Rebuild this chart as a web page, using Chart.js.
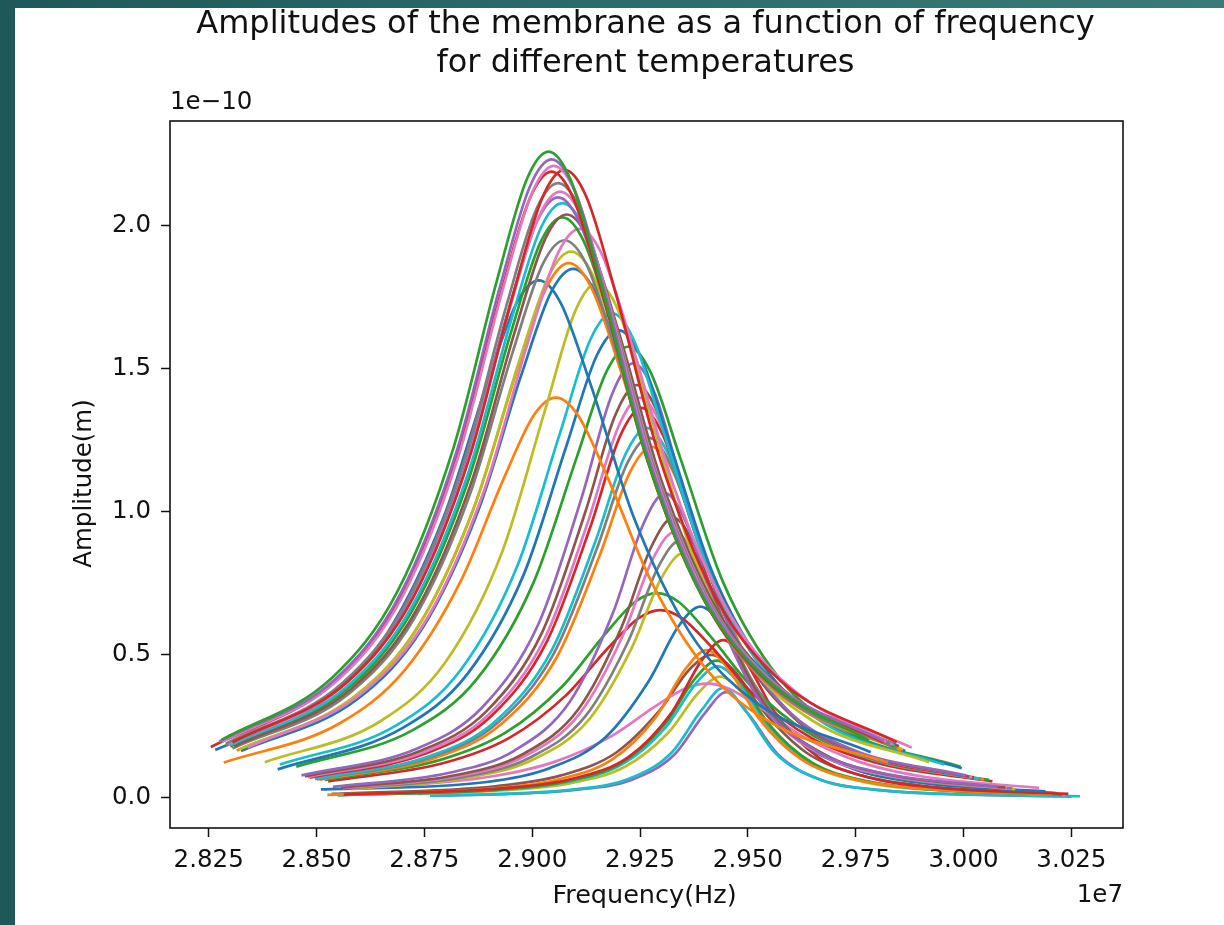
<!DOCTYPE html>
<html>
<head>
<meta charset="utf-8">
<title>Amplitudes of the membrane</title>
<script src="https://cdn.jsdelivr.net/npm/chart.js@4.4.1/dist/chart.umd.min.js"></script>
<style>
  html, body { margin: 0; padding: 0; }
  body {
    width: 1224px; height: 925px; overflow: hidden; position: relative;
    background: linear-gradient(90deg, #1f5858 0%, #2c6a69 45%, #3a7a77 100%);
  }
  #panel { position: absolute; left: 15px; top: 8px; right: 0; bottom: 0; background: #fff; }
  #chart { position: absolute; left: 0; top: 0; }
</style>
</head>
<body>
<div id="panel"></div>
<canvas id="chart" width="1224" height="925"></canvas>
<script>
// frequency in units of 1e7 Hz, amplitude in units of 1e-10 m
const freqTicks = [2.825, 2.85, 2.875, 2.9, 2.925, 2.95, 2.975, 3.0, 3.025];
const ampTicks = [0, 0.5, 1.0, 1.5, 2.0];

const titleLines = ['Amplitudes of the membrane as a function of frequency', 'for different temperatures'];
const xTitle = 'Frequency(Hz)';
const yTitle = 'Amplitude(m)';

// tall family
const curve01 = [[2.828,0.203],[2.8538,0.423],[2.8688,0.723],[2.8818,1.227],[2.8918,1.808],[2.8988,2.165],[2.9038,2.26],[2.9088,2.165],[2.9158,1.808],[2.9258,1.227],[2.9388,0.723],[2.9538,0.423],[2.978,0.200]];
const curve02 = [[2.8275,0.198],[2.8545,0.418],[2.8695,0.715],[2.8825,1.213],[2.8925,1.786],[2.8995,2.139],[2.9045,2.233],[2.9095,2.139],[2.9165,1.786],[2.9265,1.213],[2.9395,0.715],[2.9545,0.418],[2.9815,0.198]];
const curve03 = [[2.828,0.196],[2.855,0.413],[2.870,0.707],[2.883,1.200],[2.893,1.768],[2.900,2.117],[2.905,2.21],[2.910,2.117],[2.917,1.768],[2.927,1.200],[2.940,0.707],[2.955,0.413],[2.982,0.196]];
const curve04 = [[2.8255,0.178],[2.8545,0.410],[2.8695,0.701],[2.8825,1.189],[2.8925,1.752],[2.8995,2.098],[2.9045,2.19],[2.9095,2.098],[2.9165,1.752],[2.9265,1.189],[2.9395,0.701],[2.9545,0.410],[2.9815,0.194]];
const curve05 = [[2.8305,0.195],[2.8575,0.411],[2.8725,0.703],[2.8855,1.192],[2.8955,1.757],[2.9025,2.104],[2.9075,2.196],[2.9125,2.104],[2.9195,1.757],[2.9295,1.192],[2.9425,0.703],[2.9575,0.411],[2.9845,0.195]];
const curve06 = [[2.829,0.190],[2.856,0.402],[2.871,0.688],[2.884,1.167],[2.894,1.720],[2.901,2.060],[2.906,2.15],[2.911,2.060],[2.918,1.720],[2.928,1.167],[2.941,0.688],[2.956,0.402],[2.983,0.190]];
const curve07 = [[2.8295,0.188],[2.8565,0.396],[2.8715,0.678],[2.8845,1.151],[2.8945,1.696],[2.9015,2.031],[2.9065,2.12],[2.9115,2.031],[2.9185,1.696],[2.9285,1.151],[2.9415,0.678],[2.9565,0.396],[2.9835,0.188]];
const curve08 = [[2.829,0.186],[2.856,0.393],[2.871,0.672],[2.884,1.140],[2.894,1.680],[2.901,2.012],[2.906,2.10],[2.911,2.012],[2.918,1.680],[2.928,1.140],[2.941,0.672],[2.956,0.393],[2.983,0.186]];
const curve09 = [[2.830,0.184],[2.857,0.389],[2.872,0.666],[2.885,1.129],[2.895,1.664],[2.902,1.993],[2.907,2.08],[2.912,1.993],[2.919,1.664],[2.929,1.129],[2.942,0.666],[2.957,0.389],[2.984,0.184]];
const curve10 = [[2.831,0.181],[2.858,0.381],[2.873,0.653],[2.886,1.108],[2.896,1.632],[2.903,1.954],[2.908,2.04],[2.913,1.954],[2.920,1.632],[2.930,1.108],[2.943,0.653],[2.958,0.381],[2.985,0.181]];
const curve11 = [[2.830,0.180],[2.857,0.380],[2.872,0.650],[2.885,1.102],[2.895,1.624],[2.902,1.945],[2.907,2.03],[2.912,1.945],[2.919,1.624],[2.929,1.102],[2.942,0.650],[2.957,0.380],[2.984,0.180]];
const curve12 = [[2.834,0.176],[2.861,0.372],[2.876,0.637],[2.889,1.081],[2.899,1.592],[2.906,1.906],[2.911,1.99],[2.916,1.906],[2.923,1.592],[2.933,1.081],[2.946,0.637],[2.961,0.372],[2.988,0.176]];
const curve13 = [[2.8305,0.173],[2.8575,0.365],[2.8725,0.624],[2.8855,1.059],[2.8955,1.560],[2.9025,1.868],[2.9075,1.95],[2.9125,1.868],[2.9195,1.560],[2.9295,1.059],[2.9425,0.624],[2.9575,0.365],[2.9845,0.173]];
const curve14 = [[2.832,0.169],[2.859,0.357],[2.874,0.611],[2.887,1.037],[2.897,1.528],[2.904,1.830],[2.909,1.91],[2.914,1.830],[2.921,1.528],[2.931,1.037],[2.944,0.611],[2.959,0.357],[2.986,0.169]];
const curve15 = [[2.8315,0.166],[2.8585,0.350],[2.8735,0.598],[2.8865,1.015],[2.8965,1.496],[2.9035,1.791],[2.9085,1.87],[2.9135,1.791],[2.9205,1.496],[2.9305,1.015],[2.9435,0.598],[2.9585,0.350],[2.9855,0.166]];
const curve16 = [[2.8325,0.164],[2.8595,0.346],[2.8745,0.592],[2.8875,1.005],[2.8975,1.480],[2.9045,1.772],[2.9095,1.85],[2.9145,1.772],[2.9215,1.480],[2.9315,1.005],[2.9445,0.592],[2.9595,0.346],[2.9865,0.164]];
const curve17 = [[2.8265,0.168],[2.8515,0.338],[2.8665,0.579],[2.8795,0.983],[2.8895,1.448],[2.8965,1.734],[2.9015,1.81],[2.9065,1.734],[2.9135,1.448],[2.9235,0.983],[2.9365,0.579],[2.9515,0.338],[2.9785,0.160]];
const curve18 = [[2.838,0.125],[2.865,0.270],[2.880,0.477],[2.893,0.859],[2.903,1.357],[2.910,1.703],[2.915,1.80],[2.920,1.703],[2.927,1.357],[2.937,0.859],[2.950,0.477],[2.965,0.270],[2.992,0.125]];
const curve19 = [[2.8285,0.124],[2.8555,0.262],[2.8705,0.448],[2.8835,0.760],[2.8935,1.120],[2.9005,1.341],[2.9055,1.40],[2.9105,1.341],[2.9175,1.120],[2.9275,0.760],[2.9405,0.448],[2.9555,0.262],[2.9825,0.124]];
// peaks moving right, getting lower
const curve20 = [[2.8415,0.117],[2.8685,0.254],[2.8835,0.449],[2.8965,0.809],[2.9065,1.278],[2.9135,1.603],[2.9185,1.695],[2.9235,1.603],[2.9305,1.278],[2.9405,0.809],[2.9535,0.449],[2.9685,0.254],[2.9955,0.117]];
const curve21 = [[2.841,0.100],[2.870,0.245],[2.885,0.434],[2.898,0.780],[2.908,1.234],[2.915,1.548],[2.920,1.636],[2.925,1.548],[2.932,1.234],[2.942,0.780],[2.955,0.434],[2.970,0.245],[2.9996,0.104]];
const curve22 = [[2.8453,0.109],[2.8723,0.237],[2.8873,0.418],[2.9003,0.753],[2.9103,1.190],[2.9173,1.493],[2.9223,1.578],[2.9273,1.493],[2.9343,1.190],[2.9443,0.753],[2.9573,0.418],[2.9723,0.237],[2.9993,0.109]];
const curve23 = [[2.8465,0.079],[2.8735,0.174],[2.8885,0.318],[2.9015,0.610],[2.9115,1.052],[2.9185,1.411],[2.9235,1.52],[2.9285,1.411],[2.9355,1.052],[2.9455,0.610],[2.9585,0.318],[2.9735,0.174],[3.0005,0.079]];
const curve24 = [[2.8473,0.075],[2.8743,0.166],[2.8893,0.302],[2.9023,0.579],[2.9123,0.999],[2.9193,1.340],[2.9243,1.444],[2.9293,1.340],[2.9363,0.999],[2.9463,0.579],[2.9593,0.302],[2.9743,0.166],[3.0013,0.075]];
const curve25 = [[2.848,0.073],[2.875,0.161],[2.890,0.293],[2.903,0.561],[2.913,0.969],[2.920,1.299],[2.925,1.40],[2.930,1.299],[2.937,0.969],[2.947,0.561],[2.960,0.293],[2.975,0.161],[3.002,0.073]];
const curve26 = [[2.8484,0.071],[2.8754,0.156],[2.8904,0.285],[2.9034,0.547],[2.9134,0.944],[2.9204,1.266],[2.9254,1.364],[2.9304,1.266],[2.9374,0.944],[2.9474,0.547],[2.9604,0.285],[2.9754,0.156],[3.0024,0.071]];
const curve27 = [[2.8496,0.067],[2.8766,0.148],[2.8916,0.270],[2.9046,0.519],[2.9146,0.895],[2.9216,1.201],[2.9266,1.294],[2.9316,1.201],[2.9386,0.895],[2.9486,0.519],[2.9616,0.270],[2.9766,0.148],[3.0036,0.067]];
const curve28 = [[2.850,0.065],[2.877,0.145],[2.892,0.263],[2.905,0.505],[2.915,0.872],[2.922,1.169],[2.927,1.26],[2.932,1.169],[2.939,0.872],[2.949,0.505],[2.962,0.263],[2.977,0.145],[3.004,0.065]];
const curve29 = [[2.8507,0.064],[2.8777,0.141],[2.8927,0.257],[2.9057,0.492],[2.9157,0.850],[2.9227,1.140],[2.9277,1.228],[2.9327,1.140],[2.9397,0.850],[2.9497,0.492],[2.9627,0.257],[2.9777,0.141],[3.0047,0.064]];
const curve30 = [[2.8538,0.039],[2.8808,0.088],[2.8958,0.165],[2.9088,0.338],[2.9188,0.650],[2.9258,0.959],[2.9308,1.066],[2.9358,0.959],[2.9428,0.650],[2.9528,0.338],[2.9658,0.165],[2.9808,0.088],[3.0078,0.039]];
const curve31 = [[2.8557,0.036],[2.8827,0.081],[2.8977,0.152],[2.9107,0.310],[2.9207,0.597],[2.9277,0.881],[2.9327,0.979],[2.9377,0.881],[2.9447,0.597],[2.9547,0.310],[2.9677,0.152],[2.9827,0.081],[3.0097,0.036]];
const curve32 = [[2.856,0.034],[2.883,0.077],[2.898,0.144],[2.911,0.295],[2.921,0.567],[2.928,0.837],[2.933,0.93],[2.938,0.837],[2.945,0.567],[2.955,0.295],[2.968,0.144],[2.983,0.077],[3.010,0.034]];
const curve33 = [[2.8573,0.033],[2.8843,0.074],[2.8993,0.140],[2.9123,0.285],[2.9223,0.549],[2.9293,0.810],[2.9343,0.90],[2.9393,0.810],[2.9463,0.549],[2.9563,0.285],[2.9693,0.140],[2.9843,0.074],[3.0113,0.033]];
const curve34 = [[2.858,0.031],[2.885,0.071],[2.900,0.133],[2.913,0.271],[2.923,0.522],[2.930,0.770],[2.935,0.856],[2.940,0.770],[2.947,0.522],[2.957,0.271],[2.970,0.133],[2.985,0.071],[3.012,0.031]];
// low family around 2.94e7 Hz
const curve35 = [[2.8519,0.063],[2.8789,0.134],[2.8939,0.229],[2.9069,0.389],[2.9169,0.573],[2.9239,0.686],[2.9289,0.716],[2.9339,0.686],[2.9409,0.573],[2.9509,0.389],[2.9639,0.229],[2.9789,0.134],[3.0059,0.063]];
const curve36 = [[2.8527,0.058],[2.8797,0.123],[2.8947,0.210],[2.9077,0.357],[2.9177,0.526],[2.9247,0.629],[2.9297,0.657],[2.9347,0.629],[2.9417,0.526],[2.9517,0.357],[2.9647,0.210],[2.9797,0.123],[3.0067,0.058]];
const curve37 = [[2.851,0.030],[2.889,0.055],[2.904,0.104],[2.917,0.212],[2.927,0.408],[2.934,0.602],[2.939,0.669],[2.944,0.602],[2.951,0.408],[2.961,0.212],[2.974,0.104],[2.989,0.055],[3.019,0.023]];
const curve38 = [[2.8563,0.012],[2.8943,0.035],[2.9093,0.067],[2.9223,0.143],[2.9323,0.298],[2.9393,0.481],[2.9443,0.552],[2.9493,0.481],[2.9563,0.298],[2.9663,0.143],[2.9793,0.067],[2.9943,0.035],[3.0243,0.014]];
const curve39 = [[2.8525,0.011],[2.8905,0.033],[2.9055,0.063],[2.9185,0.134],[2.9285,0.279],[2.9355,0.450],[2.9405,0.517],[2.9455,0.450],[2.9525,0.279],[2.9625,0.134],[2.9755,0.063],[2.9905,0.033],[3.0205,0.013]];
const curve40 = [[2.8548,0.010],[2.8928,0.030],[2.9078,0.058],[2.9208,0.124],[2.9308,0.259],[2.9378,0.418],[2.9428,0.48],[2.9478,0.418],[2.9548,0.259],[2.9648,0.124],[2.9778,0.058],[2.9928,0.030],[3.0228,0.012]];
const curve41 = [[2.855,0.010],[2.893,0.029],[2.908,0.056],[2.921,0.119],[2.931,0.248],[2.938,0.401],[2.943,0.46],[2.948,0.401],[2.955,0.248],[2.965,0.119],[2.978,0.056],[2.993,0.029],[3.023,0.012]];
const curve42 = [[2.8635,0.035],[2.8905,0.075],[2.9055,0.128],[2.9185,0.217],[2.9285,0.320],[2.9355,0.383],[2.9405,0.40],[2.9455,0.383],[2.9525,0.320],[2.9625,0.217],[2.9755,0.128],[2.9905,0.075],[3.0175,0.035]];
const curve43 = [[2.8736,0.014],[2.8936,0.027],[2.9086,0.051],[2.9216,0.110],[2.9316,0.229],[2.9386,0.369],[2.9436,0.424],[2.9486,0.369],[2.9556,0.229],[2.9656,0.110],[2.9786,0.051],[2.9936,0.027],[3.0236,0.011]];
const curve44 = [[2.8763,0.008],[2.8943,0.015],[2.9093,0.029],[2.9223,0.066],[2.9323,0.158],[2.9393,0.308],[2.9443,0.385],[2.9493,0.308],[2.9563,0.158],[2.9663,0.066],[2.9793,0.029],[2.9943,0.015],[3.027,0.006]];
const curve45 = [[2.877,0.008],[2.895,0.014],[2.910,0.028],[2.923,0.063],[2.933,0.152],[2.940,0.296],[2.945,0.37],[2.950,0.296],[2.957,0.152],[2.967,0.063],[2.980,0.028],[2.995,0.014],[3.025,0.005]];
const curve46 = [[2.8535,0.014],[2.8915,0.041],[2.9065,0.078],[2.9195,0.159],[2.9295,0.305],[2.9365,0.450],[2.9415,0.50],[2.9465,0.450],[2.9535,0.305],[2.9635,0.159],[2.9765,0.078],[2.9915,0.041],[3.0215,0.017]];

const curves = [curve01, curve02, curve03, curve04, curve05, curve06, curve07, curve08, curve09, curve10,
  curve11, curve12, curve13, curve14, curve15, curve16, curve17, curve18, curve19, curve20,
  curve21, curve22, curve23, curve24, curve25, curve26, curve27, curve28, curve29, curve30,
  curve31, curve32, curve33, curve34, curve35, curve36, curve37, curve38, curve39, curve40,
  curve41, curve42, curve43, curve44, curve45, curve46];

// matplotlib tab10
const tab = {
  blue: '#1f77b4', orange: '#ff7f0e', green: '#2ca02c', red: '#d62728', purple: '#9467bd',
  brown: '#8c564b', pink: '#e377c2', gray: '#7f7f7f', olive: '#bcbd22', cyan: '#17becf'
};
const curveColors = ['green', 'purple', 'pink', 'red', 'red', 'gray', 'pink', 'purple', 'cyan', 'brown',
  'green', 'pink', 'gray', 'olive', 'orange', 'blue', 'blue', 'olive', 'orange', 'cyan',
  'blue', 'green', 'purple', 'brown', 'pink', 'red', 'cyan', 'gray', 'orange', 'purple',
  'brown', 'pink', 'gray', 'olive', 'green', 'red', 'blue', 'red', 'orange', 'green',
  'cyan', 'pink', 'olive', 'cyan', 'purple', 'brown'];

const FONT = 'DejaVu Sans';

// frame, titles and the matplotlib style offset texts
const decorations = {
  id: 'decorations',
  afterDraw(chart) {
    const { ctx, chartArea: a } = chart;
    const cx = (a.left + a.right) / 2;
    ctx.save();
    ctx.strokeStyle = '#111';
    ctx.lineWidth = 1.6;
    ctx.strokeRect(a.left, a.top, a.right - a.left, a.bottom - a.top);

    ctx.fillStyle = '#111';
    ctx.textBaseline = 'alphabetic';
    ctx.textAlign = 'center';
    ctx.font = '32px "' + FONT + '"';
    ctx.fillText(titleLines[0], cx - 1, 33);
    ctx.fillText(titleLines[1], cx - 1, 72);

    ctx.font = '25.5px "' + FONT + '"';
    ctx.fillText(xTitle, cx - 2, 903);
    ctx.font = '24.5px "' + FONT + '"';
    ctx.textAlign = 'left';
    ctx.fillText('1e\u221210', a.left, 109);
    ctx.textAlign = 'right';
    ctx.fillText('1e7', a.right, 902);

    ctx.font = '24.5px "' + FONT + '"';
    ctx.translate(91, (a.top + a.bottom) / 2 + 9);
    ctx.rotate(-Math.PI / 2);
    ctx.textAlign = 'center';
    ctx.fillText(yTitle, 0, 0);
    ctx.restore();
  }
};

const tickFont = { family: FONT, size: 24.5, lineHeight: 1.2 };

new Chart(document.getElementById('chart'), {
  type: 'line',
  data: {
    datasets: curves.map((pts, i) => ({
      data: pts,
      borderColor: tab[curveColors[i]],
      backgroundColor: tab[curveColors[i]],
      borderWidth: 2.7,
      pointRadius: 0,
      fill: false,
      cubicInterpolationMode: 'monotone',
      borderJoinStyle: 'round'
    }))
  },
  options: {
    responsive: false,
    animation: false,
    devicePixelRatio: 1,
    events: [],
    layout: { padding: { top: 121, right: 101, left: 0, bottom: 0 } },
    plugins: { legend: { display: false }, tooltip: { enabled: false }, title: { display: false } },
    scales: {
      x: {
        type: 'linear',
        min: 2.81603,
        max: 3.03697,
        afterFit: (s) => { s.height = 97; },
        afterBuildTicks: (s) => { s.ticks = freqTicks.map(v => ({ value: v })); },
        grid: { drawOnChartArea: false, drawTicks: true, tickLength: 9, tickColor: '#111', tickWidth: 1.5 },
        border: { display: false },
        ticks: {
          color: '#111', font: tickFont, padding: 9, maxRotation: 0, autoSkip: false,
          callback: (v) => Number(v).toFixed(3)
        }
      },
      y: {
        type: 'linear',
        min: -0.105,
        max: 2.367,
        afterFit: (s) => { s.width = 170; },
        afterBuildTicks: (s) => { s.ticks = ampTicks.map(v => ({ value: v })); },
        grid: { drawOnChartArea: false, drawTicks: true, tickLength: 9, tickColor: '#111', tickWidth: 1.5 },
        border: { display: false },
        ticks: {
          color: '#111', font: tickFont, padding: 10, autoSkip: false,
          callback: (v) => Number(v).toFixed(1)
        }
      }
    }
  },
  plugins: [decorations]
});
</script>
</body>
</html>
